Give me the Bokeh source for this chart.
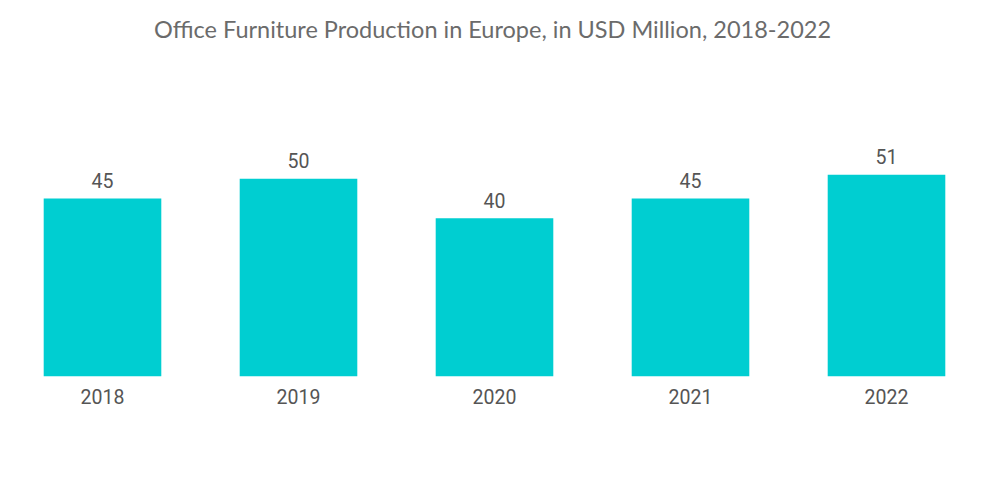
from bokeh.plotting import figure
from bokeh.models import Range1d, FixedTicker, ColumnDataSource
from bokeh.core.properties import value
from bokeh.embed import file_html
from bokeh.resources import INLINE

years = ["2018", "2019", "2020", "2021", "2022"]
production = [45, 50, 40, 45, 51]
positions = list(range(len(years)))
labels = [str(v) for v in production]

source = ColumnDataSource(data=dict(x=positions, top=production, label=labels))

p = figure(width=984, height=488, output_backend="svg", toolbar_location=None,
           x_range=Range1d(-0.5204, 4.5), y_range=Range1d(0, 83.16),
           min_border_left=0, min_border_right=0, min_border_top=47, min_border_bottom=112)

p.title.text = "Office Furniture Production in Europe, in USD Million, 2018-2022"
p.title.align = "center"
p.title.text_font = "Lato"
p.title.text_font_size = "23.5px"
p.title.text_font_style = "normal"
p.title.text_color = "#6b6b6b"
p.title.offset = -6

p.vbar(x="x", top="top", bottom=0, width=0.6, source=source,
       fill_color="#00CED1", line_color=None)

p.text(x="x", y="top", text="label", source=source, text_align="center",
       text_baseline="alphabetic", y_offset=-18, text_font=value("Roboto"),
       text_font_size="19.5px", text_color="#555555")

p.xaxis.ticker = FixedTicker(ticks=positions)
p.xaxis.major_label_overrides = {i: y for i, y in zip(positions, years)}
p.xaxis.major_label_text_font = "Roboto"
p.xaxis.major_label_text_font_size = "19.5px"
p.xaxis.major_label_text_color = "#555555"
p.xaxis.axis_line_color = None
p.xaxis.major_tick_line_color = None
p.xaxis.minor_tick_line_color = None
p.xaxis.major_label_standoff = 6
p.yaxis.visible = False
p.grid.visible = False
p.outline_line_color = None
p.background_fill_color = "white"

open("out.html", "w").write(file_html(p, INLINE))
